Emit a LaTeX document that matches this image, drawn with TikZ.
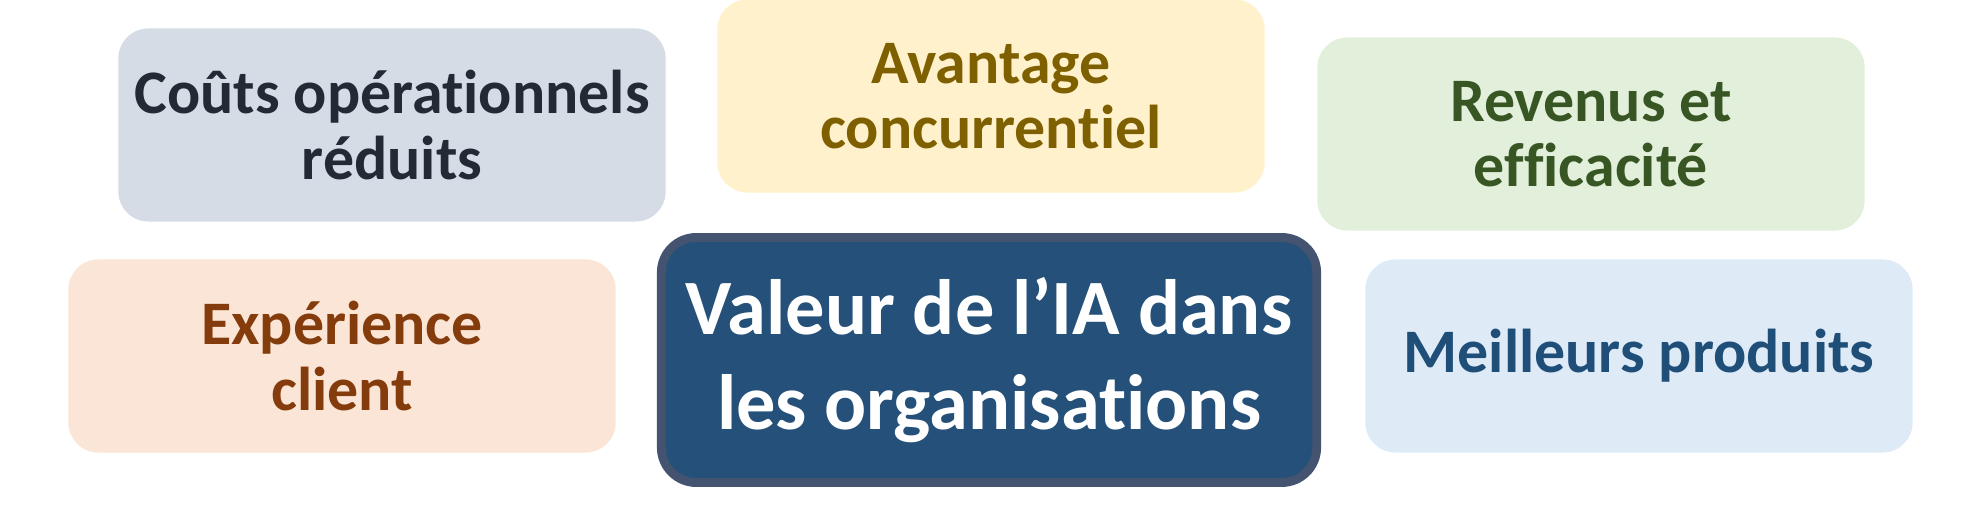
\documentclass[tikz,border=0pt]{standalone}
\usepackage{fontspec}
\setmainfont{Carlito}[Ligatures={NoCommon,NoRequired,NoContextual}, Contextuals=AlternateOff]
\definecolor{costfill}{HTML}{D6DCE5}
\definecolor{costtext}{HTML}{222A35}
\definecolor{advfill}{HTML}{FFF1CC}
\definecolor{advtext}{HTML}{7F6000}
\definecolor{revfill}{HTML}{E2EFDA}
\definecolor{revtext}{HTML}{375623}
\definecolor{expfill}{HTML}{FBE5D6}
\definecolor{exptext}{HTML}{843C0C}
\definecolor{prodfill}{HTML}{DEEBF7}
\definecolor{prodtext}{HTML}{1F4E79}
\definecolor{corefill}{HTML}{245079}
\definecolor{coreline}{HTML}{435370}
\begin{document}
\begin{tikzpicture}[x=0.01cm, y=-0.01cm,
    tile/.style={rounded corners=0.3cm, minimum width=5.47cm, minimum height=1.93cm,
        align=center, font=\fontsize{17.6}{18.6}\selectfont\bfseries, inner sep=0pt},
    core/.style={rounded corners=0.35cm, draw=coreline, line width=2.5pt, fill=corefill,
        minimum width=6.55cm, minimum height=2.45cm, align=center, text=white,
        font=\fontsize{22.3}{27}\selectfont\bfseries, inner sep=0pt}]
    \useasboundingbox (0, 0) rectangle (1969, 528);
    \node[tile, fill=costfill, text=costtext] (cost) at (392, 125) {Coûts opérationnels\\réduits};
    \node[tile, fill=advfill, text=advtext] (adv) at (991, 96) {Avantage\\concurrentiel};
    \node[tile, fill=revfill, text=revtext] (rev) at (1591, 134) {Revenus et\\efficacité};
    \node[tile, fill=expfill, text=exptext] (exp) at (342, 356) {Expérience\\client};
    \node[core] (value) at (989, 360) {Valeur de l’IA dans\\les organisations};
    \node[tile, fill=prodfill, text=prodtext] (prod) at (1639, 356) {Meilleurs produits};
\end{tikzpicture}
\end{document}
